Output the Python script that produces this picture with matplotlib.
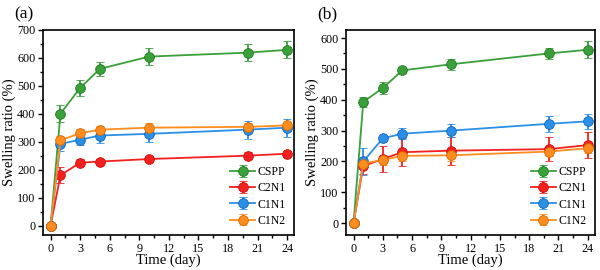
import numpy as np
import matplotlib
matplotlib.use('Agg')
import matplotlib.pyplot as plt
from matplotlib.ticker import MultipleLocator, AutoMinorLocator

plt.rcParams['font.family'] = ['Liberation Serif', 'DejaVu Serif']

#时间
time = [0, 1, 3, 5, 10, 20, 24]
names = ['CSPP', 'C2N1', 'C1N1', 'C1N2']
colors = ['#3aa03a', '#f5201e', '#2a8fe6', '#ff8c1e']
dark = ['#1f7a1f', '#c81010', '#1566b8', '#d96a00']

# panel (a)
a_cspp = [0, 400, 492, 560, 604, 618, 628]
a_cspp_err = [0, 30, 28, 25, 30, 30, 30]
a_c2n1 = [0, 180, 225, 229, 238, 250, 257]
a_c2n1_err = [0, 28, 12, 10, 10, 12, 10]
a_c1n1 = [0, 292, 307, 322, 328, 343, 350]
a_c1n1_err = [0, 25, 20, 25, 28, 32, 32]
a_c1n2 = [0, 305, 330, 343, 350, 353, 358]
a_c1n2_err = [0, 15, 15, 12, 15, 12, 12]

# panel (b)
b_cspp = [0, 393, 438, 495, 515, 550, 562]
b_cspp_err = [0, 15, 20, 8, 18, 18, 27]
b_c2n1 = [0, 185, 208, 230, 235, 240, 253]
b_c2n1_err = [0, 25, 42, 45, 45, 40, 42]
b_c1n1 = [0, 200, 275, 290, 300, 322, 330]
b_c1n1_err = [0, 45, 10, 18, 22, 25, 25]
b_c1n2 = [0, 193, 205, 218, 220, 232, 243]
b_c1n2_err = [0, 15, 15, 15, 20, 15, 15]

fig = plt.figure(figsize=(6, 2.7), dpi=100)
ax1 = fig.add_axes([0.072, 0.13, 0.418, 0.76])
ax2 = fig.add_axes([0.577, 0.13, 0.414, 0.76])

def draw(ax, series, errs, ylim, label):
    for i in range(4):
        ax.errorbar(time, series[i], yerr=errs[i], color=colors[i], lw=1.3,
                    marker='o', ms=7, mfc=colors[i], mec=dark[i], mew=0.6,
                    capsize=3.2, capthick=1.3, elinewidth=1.3, label=names[i])
        #高光
        ax.plot(time, series[i], ls='none', marker='o', ms=2.2,
                mfc='white', mec='none', alpha=0.75)
    ax.set_xlim(-0.75, 24.7)
    ax.set_ylim(*ylim)
    ax.xaxis.set_major_locator(MultipleLocator(3))
    ax.xaxis.set_minor_locator(AutoMinorLocator(2))
    ax.yaxis.set_major_locator(MultipleLocator(100))
    ax.yaxis.set_minor_locator(AutoMinorLocator(2))
    ax.tick_params(which='major', direction='out', length=3.5, width=1, labelsize=8.7, pad=2)
    ax.tick_params(which='minor', direction='out', length=2, width=1)
    for s in ax.spines.values():
        s.set_linewidth(1.2)
    ax.set_xlabel('Time (day)', fontsize=10.5, labelpad=-1)
    ax.set_ylabel('Swelling ratio (%)', fontsize=10.5, labelpad=1)
    ax.legend(loc='lower right', frameon=False, fontsize=8.5, handlelength=2.1,
              labelspacing=0.35, borderaxespad=0.3, handletextpad=0.2)
    ax.text(-0.115, 1.035, label, transform=ax.transAxes, fontsize=12.5, va='bottom')

draw(ax1, [a_cspp, a_c2n1, a_c1n1, a_c1n2],
     [a_cspp_err, a_c2n1_err, a_c1n1_err, a_c1n2_err], (-33, 700), '(a)')
draw(ax2, [b_cspp, b_c2n1, b_c1n1, b_c1n2],
     [b_cspp_err, b_c2n1_err, b_c1n1_err, b_c1n2_err], (-38, 627), '(b)')

fig.savefig('out.png', dpi=100)
